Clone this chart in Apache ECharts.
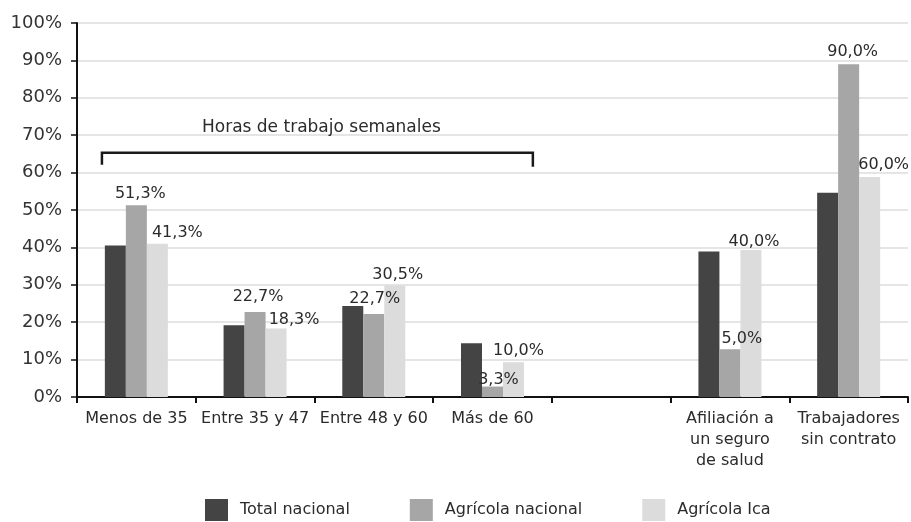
<!DOCTYPE html>
<html>
<head>
<meta charset="utf-8">
<script src="https://cdn.jsdelivr.net/npm/echarts@6/dist/echarts.min.js"></script>
<style>html,body{margin:0;padding:0;background:#fff;}#c{width:911px;height:522px;}</style>
</head>
<body>
<div id="c"></div>
<script>
// ---- data ----
const categories = ['Menos de 35', 'Entre 35 y 47', 'Entre 48 y 60', 'Más de 60', '', 'Afiliación a\nun seguro\nde salud', 'Trabajadores\nsin contrato'];
const seriesNames = ['Total nacional', 'Agrícola nacional', 'Agrícola Ica'];
const totalNacional = [40.5, 19.2, 24.3, 14.4, null, 38.9, 54.6];
const agricolaNacional = [51.3, 22.7, 22.2, 2.8, null, 12.8, 89.0];
const agricolaIca = [41.0, 18.3, 29.8, 9.3, null, 39.3, 58.8];
const labelsAgricolaNacional = ['51,3%', '22,7%', '22,7%', '3,3%', null, '5,0%', '90,0%'];
const labelsAgricolaIca = ['41,3%', '18,3%', '30,5%', '10,0%', null, '40,0%', '60,0%'];
const yTicks = [0, 10, 20, 30, 40, 50, 60, 70, 80, 90, 100];
const bracketText = 'Horas de trabajo semanales';
const bracketLevel = 65.3;

// ---- layout (label nudges, not data) ----
const offsNac = [[4, 2], [3, -2], [1, -2], [6, 6], null, [12, 3], [4, 1]];
const offsIca = [[20, 2], [18, 4], [3, 2], [5, 2], null, [3, 5], [14, 1]];

const FONT = 'DejaVu Sans';
const TXT = '#2b2b2b';

function build(values, labels, offs) {
  return values.map((v, i) => {
    const item = { value: v };
    if (labels && labels[i]) {
      item.label = { show: true, formatter: labels[i], offset: offs[i] || [0, 0] };
    }
    return item;
  });
}

const chart = echarts.init(document.getElementById('c'), null, { renderer: 'canvas' });
const barLabel = { show: false, position: 'top', distance: 5, color: TXT, fontSize: 16, fontFamily: FONT };

chart.setOption({
  animation: false,
  backgroundColor: '#fff',
  grid: { left: 77, right: 3, top: 23, bottom: 125, containLabel: false },
  legend: {
    data: seriesNames,
    left: 205, top: 499,
    itemWidth: 23, itemHeight: 22, itemGap: 60,
    icon: 'rect', padding: 0,
    textStyle: { fontSize: 16, fontFamily: FONT, color: TXT, padding: [0, 0, 0, 7] }
  },
  xAxis: {
    type: 'category',
    data: categories,
    axisLine: { show: true, lineStyle: { color: '#111', width: 2 } },
    axisTick: { show: true, length: 6, interval: 0, lineStyle: { color: '#111', width: 2 } },
    axisLabel: { interval: 0, margin: 11, fontSize: 16, lineHeight: 21, fontFamily: FONT, color: TXT },
    splitLine: { show: false }
  },
  yAxis: {
    type: 'value',
    min: yTicks[0], max: yTicks[yTicks.length - 1], interval: 10,
    axisLine: { show: true, lineStyle: { color: '#111', width: 2 } },
    axisTick: { show: true, length: 6, lineStyle: { color: '#111', width: 1.5 } },
    axisLabel: { formatter: '{value}%', margin: 15, fontSize: 18, fontFamily: FONT, color: '#333' },
    splitLine: { show: true, lineStyle: { color: '#dcdcdc', width: 1.5 } }
  },
  series: [
    { name: seriesNames[0], type: 'bar', barWidth: 21, barGap: '0%', itemStyle: { color: '#444444' },
      label: barLabel, data: build(totalNacional, null, null) },
    { name: seriesNames[1], type: 'bar', barWidth: 21, barGap: '0%', itemStyle: { color: '#a6a6a6' },
      label: barLabel, data: build(agricolaNacional, labelsAgricolaNacional, offsNac) },
    { name: seriesNames[2], type: 'bar', barWidth: 21, barGap: '0%', itemStyle: { color: '#dcdcdc' },
      label: barLabel, data: build(agricolaIca, labelsAgricolaIca, offsIca) }
  ]
});

// bracket annotation derived from axis scales
const c0 = chart.convertToPixel({ xAxisIndex: 0 }, categories[0]);
const c3 = chart.convertToPixel({ xAxisIndex: 0 }, categories[3]);
const band = chart.convertToPixel({ xAxisIndex: 0 }, categories[1]) - c0;
const xL = c0 - band * 0.29;
const xR = c3 + band * 0.34;
const yB = chart.convertToPixel({ yAxisIndex: 0 }, bracketLevel);
chart.setOption({
  graphic: [
    { type: 'polyline', shape: { points: [[xL, yB + 12], [xL, yB], [xR, yB], [xR, yB + 14]] },
      style: { stroke: '#1a1a1a', lineWidth: 2.5, fill: null } },
    { type: 'text', x: (xL + xR) / 2 + 4, y: yB - 25,
      style: { text: bracketText, fontSize: 17, fontFamily: FONT, fill: TXT, align: 'center', verticalAlign: 'middle' } }
  ]
});
</script>
</body>
</html>
